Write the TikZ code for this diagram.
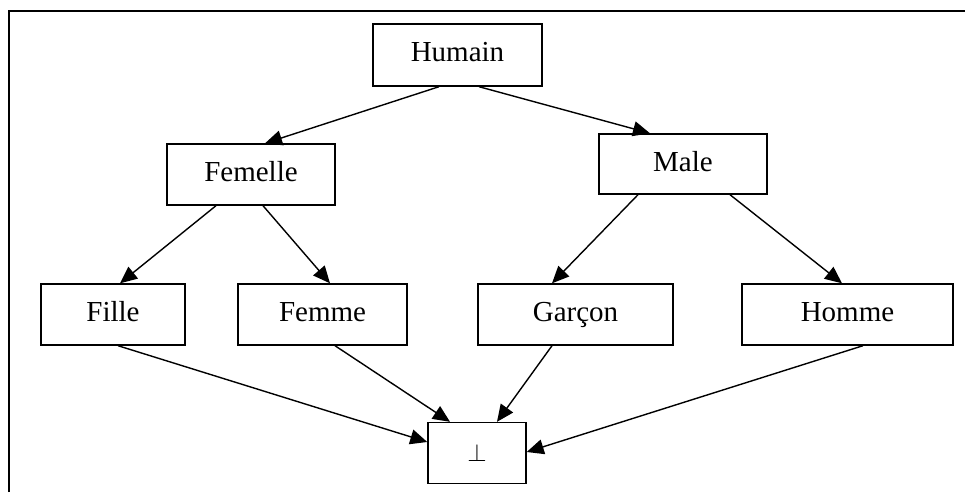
\documentclass[tikz,border=0pt]{standalone}
\usepackage{fontspec}
\setmainfont{Liberation Serif}
\usetikzlibrary{arrows.meta}
\begin{document}
\begin{tikzpicture}[x=1pt,y=-1pt,
  box/.style={draw,line width=1.4pt,inner sep=0pt,text height=21pt,text depth=7pt,
    font=\fontsize{29}{34}\selectfont},
  arr/.style={line width=1.4pt,-{Triangle[length=17pt,width=15pt]}}]
\useasboundingbox (0,0) rectangle (965,492);
% outer frame (only top and left edges are visible on the page)
\draw[line width=2pt] (8.5,492) -- (8.5,11) -- (965,11);

\node[box,minimum width=169pt,minimum height=62pt] (humain) at (457.5,55) {Humain};
\node[box,minimum width=168pt,minimum height=61pt] (femelle) at (251,174.5) {Femelle};
\node[box,minimum width=168pt,minimum height=60pt] (male) at (683,164) {Male};
\node[box,minimum width=144pt,minimum height=61pt] (fille) at (113,314.5) {Fille};
\node[box,minimum width=169pt,minimum height=61pt] (femme) at (322.5,314.5) {Femme};
\node[box,minimum width=195pt,minimum height=61pt] (garcon) at (575.5,314.5) {Garçon};
\node[box,minimum width=211pt,minimum height=61pt] (homme) at (847.5,314.5) {Homme};
\node[box,minimum width=98pt,minimum height=61pt,text height=,text depth=] (bot) at (477,453) {\fontsize{24}{28}\selectfont$\perp$};

\draw[arr] ([xshift=-18.5pt]humain.south) -- ([xshift=14pt]femelle.north);
\draw[arr] ([xshift=21.5pt]humain.south) -- ([xshift=-33pt]male.north);
\draw[arr] ([xshift=-35pt]femelle.south) -- ([xshift=7pt]fille.north);
\draw[arr] ([xshift=12pt]femelle.south) -- ([xshift=7.5pt]femme.north);
\draw[arr] ([xshift=-45pt]male.south) -- ([xshift=-23.5pt]garcon.north);
\draw[arr] ([xshift=47pt]male.south) -- ([xshift=-5.5pt]homme.north);
\draw[arr] ([xshift=5pt]fille.south) -- ([yshift=11pt]bot.west);
\draw[arr] ([xshift=12.5pt]femme.south) -- ([xshift=-27pt]bot.north);
\draw[arr] ([xshift=-23.5pt]garcon.south) -- ([xshift=20pt]bot.north);
\draw[arr] ([xshift=15.5pt]homme.south) -- ([yshift=1pt]bot.east);
\end{tikzpicture}
\end{document}
